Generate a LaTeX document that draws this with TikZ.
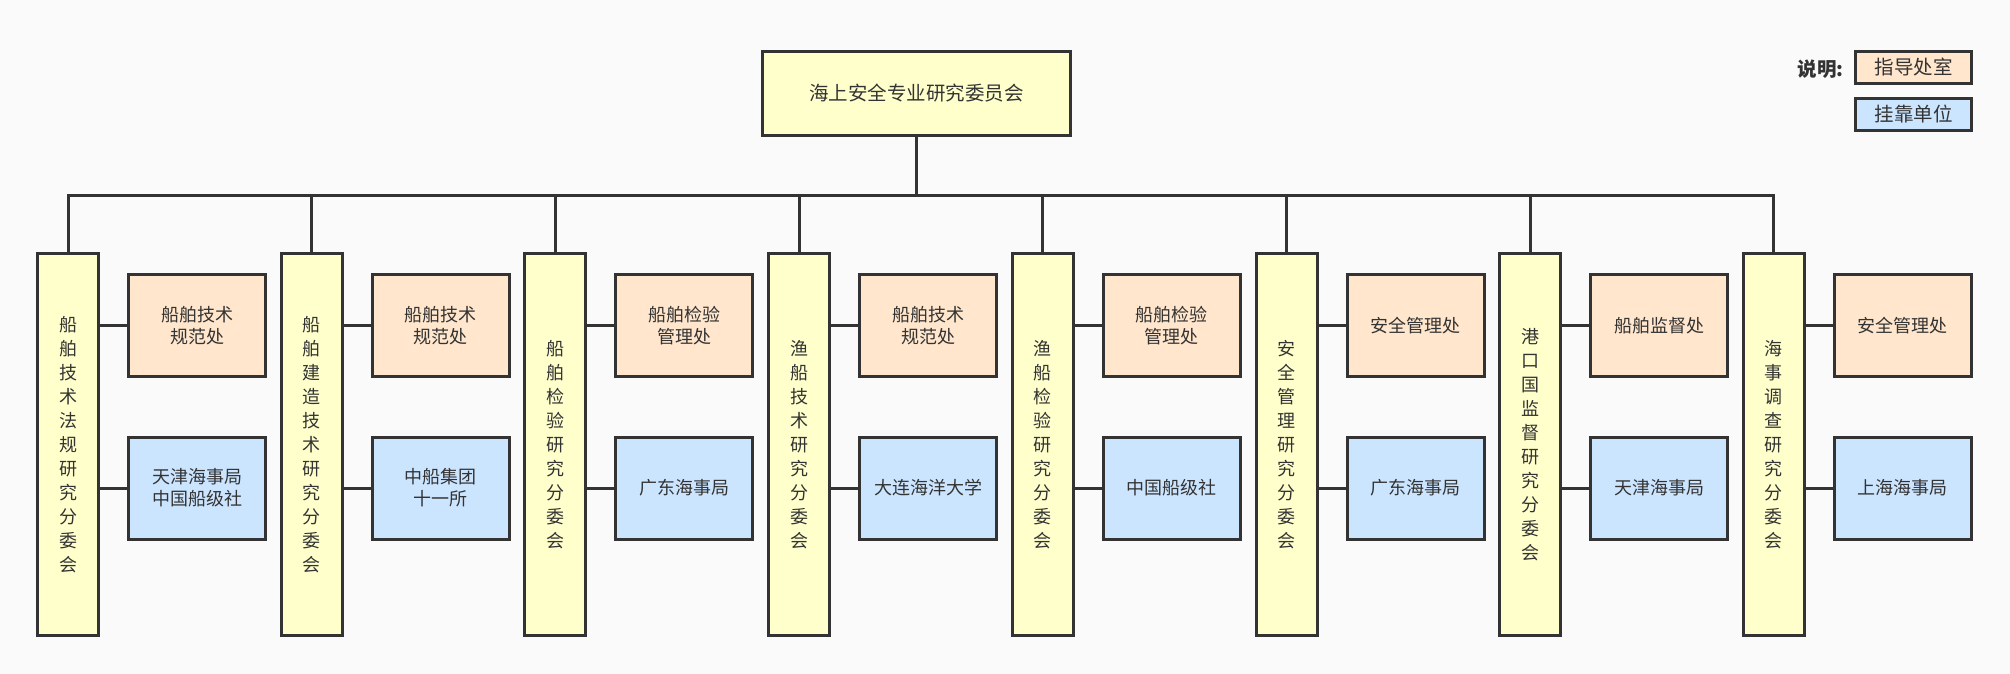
\documentclass[tikz,border=0pt]{standalone}
\usepackage{fontspec}
\newfontfamily\cjk{Noto Sans CJK SC}
\definecolor{pagebg}{HTML}{FAFAFA}
\definecolor{boxline}{HTML}{333333}
\definecolor{boardfill}{HTML}{FFFFCC}
\definecolor{officefill}{HTML}{FFE6CC}
\definecolor{unitfill}{HTML}{CCE5FF}
\begin{document}
\begin{tikzpicture}[x=1pt,y=-1pt,
    box/.style={draw=boxline, line width=3pt, text=boxline, align=center, inner sep=0pt},
    board/.style={box, fill=boardfill, minimum width=61pt, minimum height=382pt, font=\cjk\fontsize{18}{24}\selectfont},
    office/.style={box, fill=officefill, minimum width=137pt, minimum height=102pt, font=\cjk\fontsize{18}{22}\selectfont},
    unit/.style={office, fill=unitfill},
    legendbox/.style={box, minimum width=116pt, minimum height=32pt, font=\cjk\fontsize{19.5}{22}\selectfont},
    link/.style={draw=boxline, line width=3pt}]
    \useasboundingbox (0,0) rectangle (2010,674);
    \fill[pagebg] (0,0) rectangle (2010,674);
    % top committee
    \node[box, fill=boardfill, minimum width=308pt, minimum height=84pt, font=\cjk\fontsize{19.5}{22}\selectfont] (top) at (916.7,93.5) {海上安全专业研究委员会};
    \coordinate (bus) at (916.7,195);
    % legend
    \node[legendbox, fill=officefill] (lgoffice) at (1913.5,67.5) {指导处室};
    \node[legendbox, fill=unitfill] (lgunit) at (1913.5,114.5) {挂靠单位};
    \node[anchor=east, text=boxline, inner sep=0pt, font=\cjk\bfseries\fontsize{19.5}{22}\selectfont] (lgtitle) at (1844,69) {说明:};
    % sub-committees
    \foreach \name/\office/\unit [count=\i] in {
        {船\\舶\\技\\术\\法\\规\\研\\究\\分\\委\\会}/{船舶技术\\规范处}/{天津海事局\\中国船级社},
        {船\\舶\\建\\造\\技\\术\\研\\究\\分\\委\\会}/{船舶技术\\规范处}/{中船集团\\十一所},
        {船\\舶\\检\\验\\研\\究\\分\\委\\会}/{船舶检验\\管理处}/{广东海事局},
        {渔\\船\\技\\术\\研\\究\\分\\委\\会}/{船舶技术\\规范处}/{大连海洋大学},
        {渔\\船\\检\\验\\研\\究\\分\\委\\会}/{船舶检验\\管理处}/{中国船级社},
        {安\\全\\管\\理\\研\\究\\分\\委\\会}/{安全管理处}/{广东海事局},
        {港\\口\\国\\监\\督\\研\\究\\分\\委\\会}/{船舶监督处}/{天津海事局},
        {海\\事\\调\\查\\研\\究\\分\\委\\会}/{安全管理处}/{上海海事局}} {
        \pgfmathsetmacro\cx{68+243.7*(\i-1)}
        \node[board] (c\i) at (\cx,444.5) {\name};
        \node[office] (o\i) at (\cx+129,325.5) {\office};
        \node[unit] (u\i) at (\cx+129,488) {\unit};
        \draw[link] (top.south) -- (bus) -| (c\i.north);
        \draw[link] (o\i.west -| c\i.east) -- (o\i.west);
        \draw[link] (u\i.west -| c\i.east) -- (u\i.west);
    }
\end{tikzpicture}
\end{document}
